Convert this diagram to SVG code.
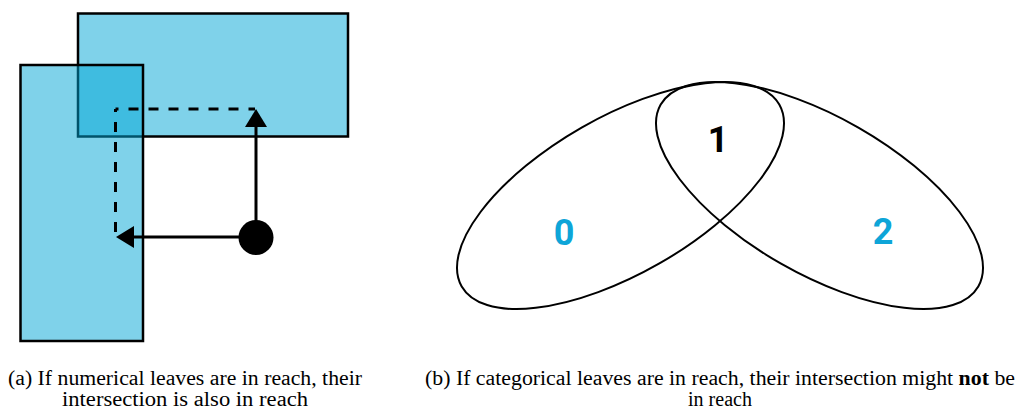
<svg xmlns="http://www.w3.org/2000/svg" width="1017" height="412" viewBox="0 0 1017 412">
<style>
.box{fill:#00a5d6;fill-opacity:0.5;stroke:#000;stroke-width:2.5}
.dash{fill:none;stroke:#000;stroke-width:3;stroke-dasharray:10 10;stroke-dashoffset:7}
.solid{fill:none;stroke:#000;stroke-width:3}
.ell{fill:none;stroke:#000;stroke-width:2}
.num{font-family:Roboto,"Liberation Sans",sans-serif;font-weight:bold;font-size:36px;text-anchor:middle}
.cap{font-family:"Liberation Serif",serif;font-size:20px;text-anchor:middle;fill:#000}
</style>
<defs>
<marker id="ah" markerUnits="userSpaceOnUse" markerWidth="19" markerHeight="22" refX="0" refY="11" orient="auto">
<path d="M0,0 L18,11 L0,22 z" fill="#000"/>
</marker>
</defs>
<g id="rect-top"><rect class="box" x="78" y="13.5" width="270" height="123"/></g>
<g id="rect-left"><rect class="box" x="20.5" y="65" width="122.5" height="276"/></g>
<g id="connectors">
<line class="dash" x1="115.5" y1="109" x2="255" y2="109"/>
<line class="dash" x1="115.5" y1="109" x2="115.5" y2="237"/>
<line class="solid" x1="256" y1="237" x2="256" y2="127" marker-end="url(#ah)"/>
<line class="solid" x1="256" y1="237" x2="134" y2="237" marker-end="url(#ah)"/>
</g>
<g id="point"><circle cx="256" cy="237.5" r="17.5" fill="#000"/></g>
<g id="ellipse-0"><ellipse class="ell" cx="620.5" cy="195.5" rx="183" ry="78.3" transform="rotate(-29.8 620.5 195.5)"/>
<text class="num" x="564" y="245" fill="#0ea5d8">0</text></g>
<g id="ellipse-2"><ellipse class="ell" cx="819.5" cy="195.5" rx="183" ry="78.3" transform="rotate(29.8 819.5 195.5)"/>
<text class="num" x="883" y="244" fill="#0ea5d8">2</text></g>
<g id="region-1"><text class="num" x="718" y="152" fill="#000">1</text></g>
<g id="caption-a">
<text class="cap" x="185" y="385" textLength="354" lengthAdjust="spacingAndGlyphs">(a) If numerical leaves are in reach, their</text>
<text class="cap" x="185" y="406" textLength="246" lengthAdjust="spacingAndGlyphs">intersection is also in reach</text>
</g>
<g id="caption-b">
<text class="cap" x="720" y="385" textLength="590" lengthAdjust="spacingAndGlyphs">(b) If categorical leaves are in reach, their intersection might <tspan font-weight="bold">not</tspan> be</text>
<text class="cap" x="720" y="406">in reach</text>
</g>
</svg>
